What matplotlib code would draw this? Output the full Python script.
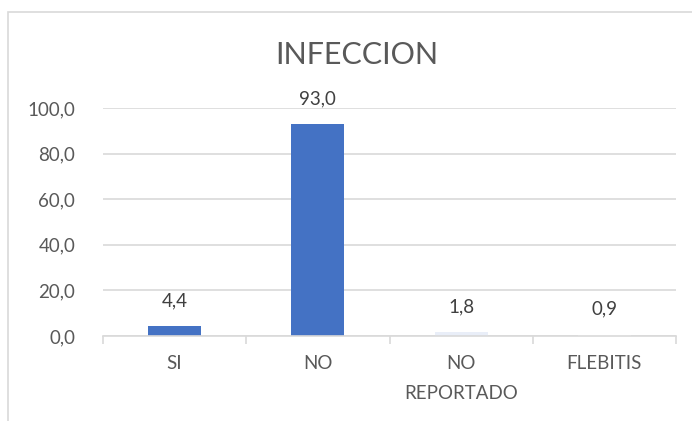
import matplotlib
import numpy as np

matplotlib.use('Agg')

import matplotlib.pyplot as plt
from matplotlib.patches import Rectangle

categories = ["SI", "NO", "NO\nREPORTADO", "FLEBITIS"]
values = [4.4, 93.0, 1.8, 0.9]
bar_colors = ["#4472C4", "#4472C4", "#E9EEF8", "#FFFFFF"]
yticks = [0, 20, 40, 60, 80, 100]

TEXT = "#595959"
GRID = "#D9D9D9"

plt.rcParams['font.family'] = ['Lato', 'DejaVu Sans']

fig = plt.figure(figsize=(6.92, 4.21), dpi=100)
fig.patches.append(Rectangle((8 / 692, -0.1), 1.2, 1 - 12 / 421 + 0.1, transform=fig.transFigure,
                             fill=False, edgecolor=GRID, linewidth=1.2))

ax = fig.add_axes([103 / 692, 1 - 336 / 421, 573 / 692, 228 / 421])
x = np.arange(len(categories))
bars = ax.bar(x, values, width=0.37, color=bar_colors, zorder=2)

for xi, v in zip(x, values):
    ax.annotate(f"{v:.1f}".replace(".", ","), (xi, v), xytext=(0, 12), textcoords='offset points',
                ha='center', va='bottom', fontsize=13.5, color="#404040", clip_on=False)

ax.set_xlim(-0.5, len(categories) - 0.5)
ax.set_ylim(0, 100)
ax.set_yticks(yticks)
ax.set_yticklabels([f"{t:.1f}".replace(".", ",") for t in yticks], fontsize=13.5, color=TEXT)
ax.yaxis.grid(True, color=GRID, linewidth=1.2, zorder=0)
ax.tick_params(axis='y', length=0, pad=20)

ax.set_xticks(x)
ax.set_xticklabels(categories, fontsize=13.5, color=TEXT, linespacing=1.9)
ax.set_xticks(np.arange(len(categories) + 1) - 0.5, minor=True)
ax.tick_params(axis='x', which='major', length=0, pad=14)
ax.tick_params(axis='x', which='minor', length=6, color=GRID, width=1.2)

for side in ['top', 'right', 'left']:
    ax.spines[side].set_visible(False)
ax.spines['bottom'].set_color(GRID)
ax.spines['bottom'].set_linewidth(1.2)

fig.text(357 / 692, 1 - 55 / 421, "INFECCION", ha='center', va='center', fontsize=22, color=TEXT)

fig.savefig("out.png", dpi=100)
